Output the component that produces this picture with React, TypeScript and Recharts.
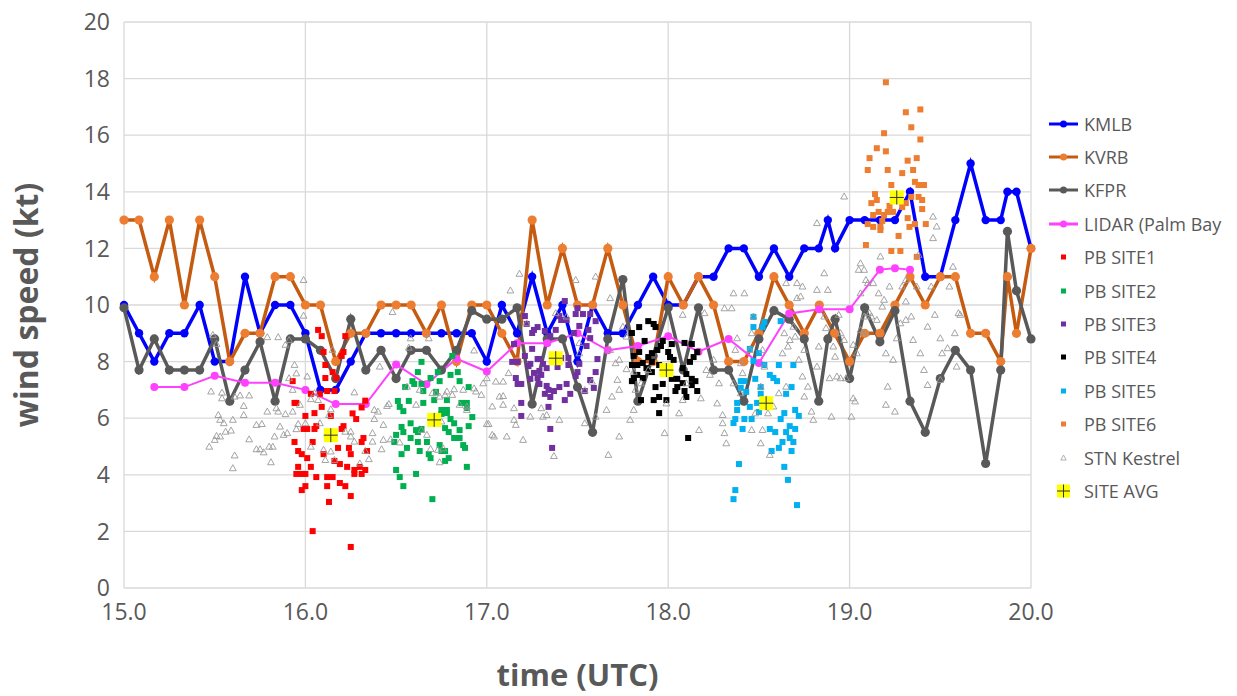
import React from "react";
import {
  ComposedChart,
  Line,
  Scatter,
  XAxis,
  YAxis,
  CartesianGrid,
} from "recharts";

type Pt = [number, number];

// hourly-station winds (time UTC, kt)
const KMLB: Pt[] = [
  [15.0, 10], [15.083, 9], [15.167, 8], [15.25, 9], [15.333, 9], [15.417, 10], [15.5, 8], [15.583, 8],
  [15.667, 11], [15.75, 9], [15.833, 10], [15.917, 10], [16.0, 9], [16.083, 7], [16.167, 7], [16.25, 8],
  [16.333, 9], [16.417, 9], [16.5, 9], [16.583, 9], [16.667, 9], [16.75, 9], [16.833, 9], [16.917, 9],
  [17.0, 8], [17.083, 10], [17.167, 9], [17.25, 11], [17.333, 9], [17.417, 10], [17.5, 8], [17.583, 10],
  [17.667, 9], [17.75, 9], [17.833, 10], [17.917, 11], [18.0, 10], [18.083, 10], [18.167, 11], [18.25, 11],
  [18.333, 12], [18.417, 12], [18.5, 11], [18.583, 12], [18.667, 11], [18.75, 12], [18.83, 12], [18.88, 13],
  [18.92, 12], [19.0, 13], [19.083, 13], [19.167, 13], [19.25, 13], [19.333, 14], [19.417, 11], [19.5, 11],
  [19.583, 13], [19.667, 15], [19.75, 13], [19.833, 13], [19.87, 14], [19.92, 14], [20.0, 12],
];

const KVRB: Pt[] = [
  [15.0, 13], [15.083, 13], [15.167, 11], [15.25, 13], [15.333, 10], [15.417, 13], [15.5, 11], [15.583, 8],
  [15.667, 9], [15.75, 9], [15.833, 11], [15.917, 11], [16.0, 10], [16.083, 10], [16.167, 8], [16.25, 9],
  [16.333, 9], [16.417, 10], [16.5, 10], [16.583, 10], [16.667, 9], [16.75, 10], [16.833, 8], [16.917, 10],
  [17.0, 10], [17.083, 9], [17.167, 8], [17.25, 13], [17.333, 10], [17.417, 12], [17.5, 10], [17.583, 10],
  [17.667, 12], [17.75, 10], [17.833, 8], [17.917, 8], [18.0, 11], [18.083, 10], [18.167, 11], [18.25, 10],
  [18.333, 8], [18.417, 8], [18.5, 9], [18.583, 11], [18.667, 10], [18.75, 9], [18.833, 10], [18.917, 9],
  [19.0, 8], [19.083, 9], [19.167, 9], [19.25, 10], [19.333, 11], [19.417, 10], [19.5, 11], [19.583, 11],
  [19.667, 9], [19.75, 9], [19.833, 8], [19.87, 11], [19.92, 9], [20.0, 12],
];

const KFPR: Pt[] = [
  [15.0, 9.9], [15.083, 7.7], [15.167, 8.8], [15.25, 7.7], [15.333, 7.7], [15.417, 7.7], [15.5, 8.8], [15.583, 6.6],
  [15.667, 7.7], [15.75, 8.7], [15.833, 6.6], [15.917, 8.8], [16.0, 8.8], [16.083, 8.4], [16.167, 7.4], [16.25, 9.5],
  [16.333, 7.7], [16.417, 8.4], [16.5, 7.4], [16.583, 8.4], [16.667, 8.4], [16.75, 7.7], [16.833, 8.4], [16.917, 9.8],
  [17.0, 9.5], [17.083, 9.5], [17.167, 9.9], [17.25, 6.5], [17.333, 8.8], [17.417, 8.8], [17.5, 7.1], [17.583, 5.5],
  [17.667, 8.8], [17.75, 10.9], [17.833, 6.6], [17.917, 8.2], [18.0, 9.9], [18.083, 7.7], [18.167, 9.9], [18.25, 7.7],
  [18.333, 7.7], [18.417, 6.6], [18.5, 8.8], [18.583, 9.8], [18.667, 9.5], [18.75, 8.8], [18.83, 6.6], [18.88, 8.8],
  [18.92, 9.5], [19.0, 7.4], [19.083, 9.9], [19.167, 8.7], [19.25, 9.8], [19.333, 6.6], [19.417, 5.5], [19.5, 7.4],
  [19.583, 8.4], [19.667, 7.7], [19.75, 4.4], [19.833, 7.7], [19.87, 12.6], [19.92, 10.5], [20.0, 8.8],
];

const LIDAR: Pt[] = [
  [15.167, 7.1], [15.333, 7.1], [15.5, 7.5], [15.667, 7.25], [15.833, 7.25], [16.0, 7.0], [16.167, 6.5],
  [16.333, 6.5], [16.5, 7.9], [16.667, 7.2], [16.833, 8.1], [17.0, 7.65], [17.167, 8.65], [17.333, 8.65],
  [17.5, 9.0], [17.667, 8.4], [17.833, 8.55], [18.0, 8.9], [18.167, 8.35], [18.333, 8.8], [18.5, 7.95],
  [18.667, 9.7], [18.833, 9.85], [19.0, 9.85], [19.167, 11.25], [19.25, 11.3], [19.333, 11.25],
];

// handheld site readings
const SITE1: Pt[] = [
  [16.07, 9.12], [16.09, 8.9], [16.22, 8.9], [16.1, 8.34], [16.21, 8.34], [16.2, 8.2], [16.11, 7.88], [16.15, 7.63],
  [16.11, 7.42], [16.17, 7.42], [15.93, 7.31], [16.03, 6.86], [16.08, 6.86], [16.12, 6.96], [16.16, 6.96], [15.94, 6.54],
  [15.95, 6.54], [16.09, 6.4], [16.05, 6.18], [16.0, 6.08], [16.14, 6.08], [16.26, 6.17], [16.28, 5.97], [16.33, 6.62],
  [16.31, 6.38], [16.21, 5.72], [16.06, 5.72], [15.99, 5.62], [16.01, 5.62], [16.05, 5.62], [16.2, 5.62], [15.94, 5.16],
  [16.04, 5.16], [16.31, 5.16], [16.32, 5.3], [15.96, 4.84], [15.98, 4.73], [16.1, 4.73], [16.18, 4.95], [16.24, 4.95],
  [16.01, 4.59], [16.25, 4.73], [16.34, 4.84], [16.16, 4.49], [16.19, 4.38], [15.96, 4.28], [16.03, 4.28], [16.23, 4.28],
  [16.27, 4.17], [16.3, 4.28], [16.33, 4.17], [15.95, 4.03], [15.98, 4.03], [16.0, 4.03], [16.06, 3.92], [16.12, 3.92],
  [16.15, 3.92], [16.27, 4.03], [16.31, 4.03], [16.19, 3.71], [16.22, 3.6], [16.0, 3.6], [15.98, 3.46], [16.12, 3.6],
  [16.25, 3.25], [16.13, 3.04], [16.04, 2.01], [16.25, 1.45],
];

const SITE2: Pt[] = [
  [16.81, 8.2], [16.64, 7.99], [16.62, 7.63], [16.73, 7.63], [16.8, 7.53], [16.84, 7.63], [16.59, 7.31], [16.64, 7.21],
  [16.69, 7.42], [16.74, 7.31], [16.85, 7.31], [16.55, 7.1], [16.6, 7.21], [16.65, 6.96], [16.72, 6.93], [16.9, 7.1],
  [16.57, 6.61], [16.51, 6.61], [16.71, 6.64], [16.78, 6.64], [16.52, 6.4], [16.65, 6.54], [16.86, 6.54], [16.89, 6.54],
  [16.54, 6.25], [16.78, 6.29], [16.75, 6.29], [16.89, 6.36], [16.75, 6.15], [16.78, 6.18], [16.8, 5.97], [16.92, 6.04],
  [16.58, 5.82], [16.82, 5.82], [16.9, 5.72], [16.53, 5.69], [16.54, 5.51], [16.61, 5.58], [16.64, 5.62], [16.77, 5.65],
  [16.85, 5.58], [16.5, 5.41], [16.58, 5.3], [16.62, 5.51], [16.79, 5.51], [16.82, 5.3], [16.85, 5.3], [16.49, 5.16],
  [16.62, 5.16], [16.67, 5.16], [16.74, 5.05], [16.87, 5.05], [16.88, 4.95], [16.56, 4.95], [16.63, 4.84], [16.75, 4.84],
  [16.77, 4.84], [16.53, 4.73], [16.68, 4.73], [16.69, 4.59], [16.79, 4.59], [16.77, 4.49], [16.89, 4.28], [16.5, 4.17],
  [16.61, 4.03], [16.52, 3.92], [16.54, 3.6], [16.7, 3.14],
];

const SITE3: Pt[] = [
  [17.43, 10.14], [17.5, 9.89], [17.21, 9.61], [17.53, 9.68], [17.4, 9.61], [17.41, 9.47], [17.44, 9.47], [17.49, 9.68],
  [17.57, 9.68], [17.6, 9.43], [17.22, 9.33], [17.28, 9.22], [17.26, 9.12], [17.25, 9.01], [17.32, 9.08], [17.38, 9.12],
  [17.51, 9.26], [17.48, 9.01], [17.56, 9.12], [17.35, 8.9], [17.55, 8.55], [17.57, 8.83], [17.15, 8.62], [17.25, 8.45],
  [17.21, 8.2], [17.14, 7.99], [17.17, 7.99], [17.28, 8.09], [17.29, 8.09], [17.41, 8.13], [17.45, 8.13], [17.24, 7.92],
  [17.31, 7.92], [17.23, 7.84], [17.33, 7.77], [17.39, 7.81], [17.45, 7.88], [17.51, 7.92], [17.61, 8.09], [17.6, 7.63],
  [17.26, 7.6], [17.29, 7.67], [17.3, 7.53], [17.24, 7.39], [17.28, 7.42], [17.5, 7.63], [17.49, 7.49], [17.16, 7.42],
  [17.57, 7.35], [17.17, 7.21], [17.19, 7.21], [17.29, 7.21], [17.33, 7.14], [17.4, 7.1], [17.44, 7.21], [17.54, 6.96],
  [17.59, 7.07], [17.34, 7.0], [17.37, 6.96], [17.32, 6.86], [17.46, 6.86], [17.43, 6.64], [17.35, 6.75], [17.19, 6.54],
  [17.34, 6.4], [17.19, 6.08], [17.35, 5.62], [17.36, 4.95],
];

const SITE4: Pt[] = [
  [17.84, 9.22], [17.89, 9.43], [17.92, 9.33], [17.93, 9.22], [17.8, 9.01], [17.97, 8.73], [17.87, 8.73], [18.02, 8.62],
  [18.09, 8.66], [18.13, 8.62], [17.96, 8.55], [17.94, 8.41], [17.84, 8.34], [17.91, 8.3], [18.0, 8.34], [18.16, 8.34],
  [17.81, 8.2], [17.89, 8.16], [18.01, 8.16], [18.03, 8.06], [18.14, 8.16], [18.12, 7.99], [17.8, 7.88], [17.83, 7.88],
  [17.86, 7.95], [17.91, 7.99], [17.95, 7.88], [18.08, 7.77], [17.88, 7.77], [17.91, 7.63], [18.1, 7.56], [17.83, 7.53],
  [17.81, 7.42], [17.8, 7.31], [17.86, 7.42], [18.02, 7.39], [18.05, 7.39], [18.13, 7.39], [18.15, 7.31], [18.08, 7.24],
  [17.97, 7.21], [17.93, 7.1], [18.05, 7.1], [18.13, 7.17], [18.04, 6.96], [18.09, 6.96], [18.16, 6.96], [17.85, 6.64],
  [17.92, 6.64], [17.95, 6.75], [17.99, 6.64], [18.1, 6.75], [17.95, 6.18], [18.11, 5.3],
];

const SITE5: Pt[] = [
  [18.47, 9.58], [18.53, 9.4], [18.62, 9.43], [18.47, 9.22], [18.52, 9.22], [18.45, 8.45], [18.5, 8.3], [18.47, 8.02],
  [18.53, 7.88], [18.61, 7.88], [18.69, 7.88], [18.56, 7.53], [18.58, 7.42], [18.6, 7.31], [18.4, 7.31], [18.42, 7.31],
  [18.48, 7.39], [18.51, 7.1], [18.68, 7.1], [18.4, 7.07], [18.43, 6.93], [18.65, 6.86], [18.51, 6.86], [18.38, 6.54],
  [18.45, 6.4], [18.49, 6.54], [18.38, 6.29], [18.64, 6.18], [18.7, 6.29], [18.5, 6.22], [18.72, 6.08], [18.37, 5.97],
  [18.42, 5.97], [18.46, 5.97], [18.62, 5.97], [18.36, 5.83], [18.67, 5.72], [18.56, 5.62], [18.7, 5.62], [18.41, 5.62],
  [18.59, 5.51], [18.65, 5.51], [18.67, 5.3], [18.69, 5.16], [18.63, 5.16], [18.61, 4.95], [18.68, 4.84], [18.57, 4.84],
  [18.39, 4.38], [18.64, 4.28], [18.66, 3.82], [18.37, 3.46], [18.36, 3.14], [18.71, 2.93],
];

const SITE6: Pt[] = [
  [19.2, 17.87], [19.31, 16.81], [19.39, 16.91], [19.34, 16.28], [19.19, 16.07], [19.39, 15.85], [19.15, 15.54], [19.2, 15.43],
  [19.11, 15.19], [19.37, 15.19], [19.32, 15.1], [19.1, 14.77], [19.21, 14.77], [19.35, 14.77], [19.29, 14.66], [19.23, 14.24],
  [19.36, 14.35], [19.38, 14.24], [19.41, 14.24], [19.14, 13.92], [19.12, 13.6], [19.15, 13.71], [19.38, 13.82], [19.4, 13.71],
  [19.34, 13.82], [19.31, 13.6], [19.22, 13.5], [19.4, 13.39], [19.13, 13.18], [19.16, 13.29], [19.19, 13.18], [19.21, 13.29],
  [19.24, 13.29], [19.29, 13.46], [19.18, 12.97], [19.32, 13.07], [19.36, 12.86], [19.1, 12.86], [19.13, 12.76], [19.17, 12.76],
  [19.33, 12.76], [19.42, 12.86], [19.17, 12.65], [19.27, 12.44], [19.09, 12.12], [19.23, 11.91], [19.28, 11.91], [19.37, 11.7],
];

const KESTREL: Pt[] = [
  [15.49, 8.94], [15.51, 8.62], [15.48, 6.94], [15.47, 4.99], [15.5, 5.23], [15.51, 5.37], [15.53, 5.35], [15.52, 6.11],
  [15.53, 5.94], [15.55, 5.82], [15.56, 5.52], [15.59, 5.56], [15.6, 5.94], [15.61, 4.68], [15.6, 4.23], [15.54, 6.9],
  [15.54, 6.7], [15.61, 6.76], [15.64, 6.8], [15.69, 6.8], [15.66, 6.11], [15.66, 6.43], [15.69, 5.25], [15.73, 4.9],
  [15.75, 4.9], [15.77, 4.79], [15.73, 5.76], [15.76, 5.79], [15.8, 4.99], [15.82, 4.99], [15.81, 4.44], [15.79, 6.23],
  [15.85, 6.23], [15.84, 6.35], [15.89, 6.14], [15.93, 6.23], [15.86, 5.7], [15.83, 5.35], [15.88, 5.41], [15.9, 5.47],
  [15.95, 5.61], [15.96, 5.79], [15.94, 7.88], [15.95, 7.58], [15.91, 7.41], [15.93, 7.0], [15.97, 6.47], [15.79, 8.86],
  [15.85, 8.86], [15.89, 8.59], [15.91, 8.76], [15.99, 10.88], [15.99, 9.62], [16.01, 7.47], [16.03, 6.67], [16.05, 6.88],
  [16.03, 4.99], [16.0, 5.82], [16.08, 5.82], [16.11, 4.52], [16.1, 4.88], [16.07, 6.64], [16.13, 6.11], [16.15, 8.41],
  [16.13, 5.47], [16.14, 4.82], [16.16, 4.52], [16.14, 6.31], [16.22, 5.52], [16.25, 5.35], [16.27, 5.17], [16.25, 5.52],
  [16.27, 6.91], [16.3, 4.4], [16.33, 4.84], [16.35, 4.55], [16.37, 5.47], [16.37, 5.17], [16.38, 5.97], [16.42, 4.9],
  [16.43, 5.23], [16.45, 6.43], [16.46, 6.5], [16.48, 9.75], [16.47, 5.25], [16.4, 6.23], [16.41, 7.82], [16.38, 6.29],
  [16.43, 5.76], [16.52, 5.14], [16.56, 7.11], [16.57, 8.49], [16.58, 8.82], [16.61, 6.47], [16.63, 7.0], [16.64, 5.58],
  [16.67, 5.41], [16.68, 8.82], [16.7, 6.88], [16.72, 6.88], [16.75, 5.88], [16.77, 6.82], [16.78, 6.94], [16.81, 6.82],
  [16.82, 7.02], [16.74, 6.76], [16.69, 4.91], [16.73, 4.88], [16.74, 4.44], [16.76, 4.93], [16.85, 6.47], [16.87, 7.0],
  [16.89, 6.41], [16.89, 6.29], [16.93, 8.39], [16.93, 7.05], [16.94, 6.94], [16.97, 6.82], [16.98, 7.23], [17.0, 7.41],
  [17.03, 6.41], [17.05, 7.29], [17.09, 7.29], [17.12, 7.59], [17.07, 6.76], [17.09, 6.47], [17.09, 6.78], [17.0, 5.79],
  [17.01, 5.79], [17.03, 5.41], [17.04, 5.35], [17.11, 5.35], [17.15, 5.94], [17.15, 6.35], [17.16, 5.76], [17.2, 5.23],
  [17.24, 6.05], [17.3, 6.35], [17.31, 6.05], [17.33, 6.11], [17.4, 5.94], [17.37, 4.66], [17.49, 10.88], [17.18, 11.1],
  [17.13, 10.51], [17.22, 9.35], [17.38, 9.71], [17.44, 9.59], [17.51, 8.65], [17.51, 8.29], [17.54, 6.99], [17.58, 7.29],
  [17.54, 5.82], [17.6, 6.05], [17.68, 10.24], [17.6, 11.0], [17.73, 8.06], [17.77, 7.73], [17.81, 7.64], [17.72, 7.35],
  [17.73, 7.0], [17.75, 9.23], [17.77, 8.88], [17.68, 8.41], [17.71, 7.94], [17.69, 6.76], [17.66, 6.29], [17.73, 5.35],
  [17.67, 4.7], [17.81, 6.29], [17.79, 5.94], [17.82, 7.0], [17.85, 7.23], [17.89, 7.7], [17.98, 5.47], [17.99, 6.52],
  [18.06, 6.17], [18.08, 6.64], [18.1, 7.23], [18.08, 9.65], [18.18, 6.7], [18.17, 5.58], [18.21, 7.7], [18.2, 9.71],
  [18.25, 8.06], [18.23, 7.53], [18.28, 7.23], [18.3, 6.11], [18.3, 5.82], [18.31, 5.47], [18.27, 6.52], [18.31, 9.88],
  [18.35, 9.88], [18.36, 10.41], [18.36, 7.23], [18.4, 7.94], [18.4, 6.88], [18.32, 5.11], [18.37, 8.41], [18.38, 8.82],
  [18.42, 10.41], [18.47, 9.59], [18.45, 8.41], [18.46, 9.0], [18.41, 7.59], [18.52, 8.41], [18.53, 7.82], [18.51, 7.11],
  [18.48, 6.17], [18.46, 5.58], [18.52, 5.58], [18.51, 5.11], [18.56, 4.7], [18.55, 6.17], [18.58, 6.41], [18.61, 6.88],
  [18.63, 8.29], [18.65, 10.77], [18.71, 10.77], [18.74, 10.65], [18.71, 10.24], [18.73, 10.3], [18.65, 7.11], [18.67, 8.76],
  [18.69, 9.23], [18.7, 8.88], [18.66, 8.53], [18.64, 9.0], [18.72, 8.06], [18.75, 8.41], [18.75, 6.76], [18.74, 7.47],
  [18.77, 7.11], [18.79, 6.23], [18.8, 5.94], [18.82, 7.82], [18.83, 8.53], [18.82, 12.89], [18.86, 11.12], [18.82, 10.53],
  [18.88, 10.53], [18.86, 9.59], [18.87, 9.18], [18.91, 8.53], [18.92, 8.17], [18.93, 7.47], [18.89, 7.41], [18.9, 6.05],
  [18.94, 9.65], [18.95, 9.0], [18.97, 8.76], [18.95, 7.41], [18.97, 13.83], [18.98, 7.41], [19.01, 6.05], [19.02, 6.7],
  [19.03, 6.59], [19.06, 11.47], [19.05, 11.24], [19.08, 11.24], [19.09, 10.88], [19.1, 10.77], [19.06, 10.41], [19.04, 8.29],
  [19.02, 8.59], [19.06, 9.12], [19.08, 9.59], [19.12, 9.59], [19.09, 9.0], [19.11, 9.71], [19.15, 9.47], [19.13, 10.77],
  [19.19, 10.18], [19.17, 11.71], [19.16, 10.41], [19.18, 9.94], [19.2, 8.29], [19.2, 6.47], [19.22, 10.65], [19.21, 7.11],
  [19.24, 8.06], [19.25, 6.23], [19.26, 8.82], [19.28, 9.35], [19.29, 10.65], [19.31, 10.88], [19.31, 10.12], [19.31, 9.47],
  [19.34, 9.59], [19.35, 8.76], [19.37, 10.65], [19.38, 11.77], [19.39, 8.29], [19.41, 7.7], [19.43, 7.17], [19.43, 9.23],
  [19.45, 10.65], [19.46, 12.36], [19.47, 9.65], [19.46, 13.12], [19.48, 12.77], [19.5, 8.82], [19.51, 8.29], [19.5, 7.35],
  [19.54, 8.47], [19.55, 10.65], [19.57, 11.35], [19.58, 9.0], [19.59, 7.82], [19.6, 9.71], [19.61, 9.65],
];

const SITE_AVG: Pt[] = [
  [16.14, 5.4], [16.71, 5.94], [17.38, 8.12], [17.99, 7.7], [18.54, 6.53], [19.26, 13.8],
];

const X_TICKS = [15, 16, 17, 18, 19, 20];
const Y_TICKS = [0, 2, 4, 6, 8, 10, 12, 14, 16, 18, 20];

const toRows = (pts: Pt[]) => pts.map(([t, v]) => ({ t, v }));

const FONT = "'Open Sans', 'Noto Sans', sans-serif";
const TEXT = "#595959";

const square = (color: string, s: number) => (p: any) => (
  <rect x={p.cx - s / 2} y={p.cy - s / 2} width={s} height={s} fill={color} />
);

const triangle = (p: any) => (
  <polygon
    points={`${p.cx},${p.cy - 3.6} ${p.cx - 3.4},${p.cy + 2.4} ${p.cx + 3.4},${p.cy + 2.4}`}
    fill="none"
    stroke="#9A9A9A"
    strokeWidth={0.9}
  />
);

const avgMark = (p: any) => (
  <g>
    <rect x={p.cx - 7} y={p.cy - 7} width={14} height={14} fill="#FFFF00" />
    <line x1={p.cx - 7} x2={p.cx + 7} y1={p.cy} y2={p.cy} stroke="#333" strokeWidth={1} />
    <line x1={p.cx} x2={p.cx} y1={p.cy - 7} y2={p.cy + 7} stroke="#333" strokeWidth={1} />
  </g>
);

type LegendItem = { name: string; kind: "line" | "square" | "tri" | "avg"; color: string; dot?: string };

const LEGEND: LegendItem[] = [
  { name: "KMLB", kind: "line", color: "#0000FF", dot: "#0000FF" },
  { name: "KVRB", kind: "line", color: "#C55A11", dot: "#ED7D31" },
  { name: "KFPR", kind: "line", color: "#595959", dot: "#595959" },
  { name: "LIDAR (Palm Bay", kind: "line", color: "#FF40FF", dot: "#FF40FF" },
  { name: "PB SITE1", kind: "square", color: "#FF0000" },
  { name: "PB SITE2", kind: "square", color: "#00B050" },
  { name: "PB SITE3", kind: "square", color: "#7030A0" },
  { name: "PB SITE4", kind: "square", color: "#000000" },
  { name: "PB SITE5", kind: "square", color: "#00B0F0" },
  { name: "PB SITE6", kind: "square", color: "#ED7D31" },
  { name: "STN Kestrel", kind: "tri", color: "#A6A6A6" },
  { name: "SITE AVG", kind: "avg", color: "#FFFF00" },
];

function LegendBox() {
  return (
    <div style={{ position: "absolute", left: 1048, top: 107, width: 189, overflow: "hidden" }}>
      {LEGEND.map((it) => (
        <div key={it.name} style={{ display: "flex", alignItems: "center", height: 33.4, whiteSpace: "nowrap" }}>
          <svg width={32} height={20} style={{ flex: "none" }}>
            {it.kind === "line" && (
              <g>
                <line x1={1} x2={30} y1={10} y2={10} stroke={it.color} strokeWidth={3} />
                <circle cx={15.5} cy={10} r={3.5} fill={it.dot} />
              </g>
            )}
            {it.kind === "square" && <rect x={13} y={7.5} width={5} height={5} fill={it.color} />}
            {it.kind === "tri" && (
              <polygon points="15.5,7 12.8,12 18.2,12" fill="none" stroke={it.color} strokeWidth={0.9} />
            )}
            {it.kind === "avg" && (
              <g>
                <rect x={9} y={3.5} width={13} height={13} fill="#FFFF00" />
                <line x1={9} x2={22} y1={10} y2={10} stroke="#333" strokeWidth={1} />
                <line x1={15.5} x2={15.5} y1={3.5} y2={16.5} stroke="#333" strokeWidth={1} />
              </g>
            )}
          </svg>
          <span style={{ fontFamily: FONT, fontSize: 18, color: TEXT, marginLeft: 4 }}>{it.name}</span>
        </div>
      ))}
    </div>
  );
}

export default function App() {
  // pull the chart over the body margin so page pixels equal chart pixels
  return (
    <div style={{ position: "relative", width: 1237, height: 696, margin: "-8px 0 0 -8px" }}>
      <ComposedChart
        width={1237}
        height={696}
        margin={{ top: 22, right: 206, bottom: 8, left: 8 }}
        style={{ overflow: "visible" }}
      >
        <CartesianGrid stroke="#D9D9D9" strokeWidth={1.3} />
        <XAxis
          type="number"
          dataKey="t"
          domain={[15, 20]}
          ticks={X_TICKS}
          tickFormatter={(v: number) => v.toFixed(1)}
          axisLine={false}
          tickLine={false}
          height={100}
          tickMargin={10}
          tick={{ fill: TEXT, fontSize: 23, fontFamily: FONT }}
          label={{
            value: "time (UTC)",
            position: "insideBottom",
            offset: 2,
            style: { fill: TEXT, fontSize: 31, fontWeight: 700, fontFamily: FONT },
          }}
        />
        <YAxis
          type="number"
          dataKey="v"
          domain={[0, 20]}
          ticks={Y_TICKS}
          axisLine={false}
          tickLine={false}
          width={116}
          tickMargin={8}
          tick={{ fill: TEXT, fontSize: 23, fontFamily: FONT }}
          label={{
            value: "wind speed (kt)",
            angle: -90,
            position: "insideLeft",
            offset: 19,
            style: { fill: TEXT, fontSize: 32, fontWeight: 700, fontFamily: FONT, textAnchor: "middle" },
          }}
        />
        <Line data={toRows(KMLB)} dataKey="v" stroke="#0000FF" strokeWidth={3.5}
          dot={{ r: 4.2, fill: "#0000FF", stroke: "none" }} isAnimationActive={false} />
        <Line data={toRows(KVRB)} dataKey="v" stroke="#C55A11" strokeWidth={3.5}
          dot={{ r: 4.6, fill: "#ED7D31", stroke: "none" }} isAnimationActive={false} />
        <Line data={toRows(KFPR)} dataKey="v" stroke="#595959" strokeWidth={3.5}
          dot={{ r: 4.6, fill: "#595959", stroke: "none" }} isAnimationActive={false} />
        <Line data={toRows(LIDAR)} dataKey="v" stroke="#FF40FF" strokeWidth={2}
          dot={{ r: 4, fill: "#FF40FF", stroke: "none" }} isAnimationActive={false} />
        <Scatter data={toRows(SITE1)} shape={square("#FF0000", 6)} isAnimationActive={false} />
        <Scatter data={toRows(SITE2)} shape={square("#00B050", 6)} isAnimationActive={false} />
        <Scatter data={toRows(SITE3)} shape={square("#7030A0", 6)} isAnimationActive={false} />
        <Scatter data={toRows(SITE4)} shape={square("#000000", 6)} isAnimationActive={false} />
        <Scatter data={toRows(SITE5)} shape={square("#00B0F0", 6)} isAnimationActive={false} />
        <Scatter data={toRows(SITE6)} shape={square("#ED7D31", 6)} isAnimationActive={false} />
        <Scatter data={toRows(KESTREL)} shape={triangle} isAnimationActive={false} />
        <Scatter data={toRows(SITE_AVG)} shape={avgMark} isAnimationActive={false} />
      </ComposedChart>
      <LegendBox />
    </div>
  );
}
